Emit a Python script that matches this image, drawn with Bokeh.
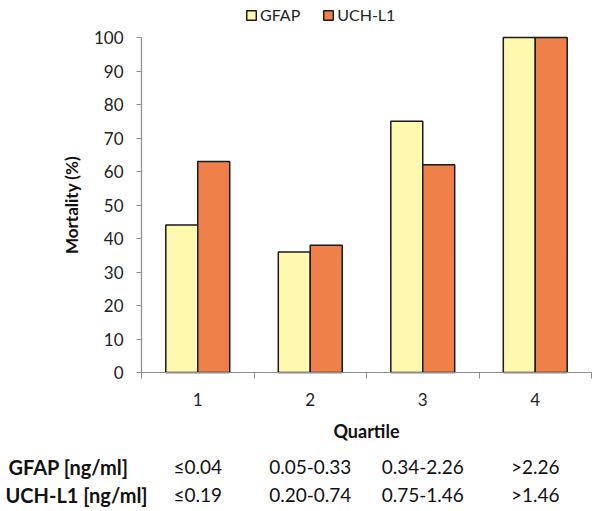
from bokeh.plotting import figure
from bokeh.models import (ColumnDataSource, FixedTicker, Legend, LegendItem, Range1d)
from bokeh.core.properties import value
from bokeh.transform import dodge
from bokeh.embed import file_html
from bokeh.resources import INLINE

quartiles = ["1", "2", "3", "4"]
gfap = [44, 36, 75, 100]
uchl1 = [63, 38, 62, 100]
gfap_ranges = ["≤0.04", "0.05-0.33", "0.34-2.26", ">2.26"]
uchl1_ranges = ["≤0.19", "0.20-0.74", "0.75-1.46", ">1.46"]
series_names = ["GFAP", "UCH-L1"]
row_headers = ["GFAP [ng/ml]", "UCH-L1 [ng/ml]"]

FONT = "Lato"
AX = "#8c8c8c"

# layout constants (pixels on the canvas)
W, H = 600, 511
AX_LEFT, AX_RIGHT = 141, 591        # x extent of the plotting area
AX_TOP, AX_BOTTOM = 37, 372         # y of 100 and of 0
ROW_Y = [466, 494]                  # table rows
HEAD_X = [8, 5]                     # table row headers (left edge)

xs = list(range(1, len(quartiles) + 1))
x0, x1 = 0.5, len(quartiles) + 0.5
ymax = 100
xppu = (AX_RIGHT - AX_LEFT) / (x1 - x0)
yppu = (AX_BOTTOM - AX_TOP) / ymax


def px_x(px):
    return x0 + (px - AX_LEFT) / xppu


def px_y(py):
    return (AX_BOTTOM - py) / yppu


src = ColumnDataSource(dict(x=xs, q=quartiles, gfap=gfap, uchl1=uchl1,
                            gr=gfap_ranges, ur=uchl1_ranges))

p = figure(frame_width=W, frame_height=H, output_backend="svg",
           toolbar_location=None,
           x_range=Range1d(px_x(0), px_x(W)), y_range=Range1d(px_y(H), px_y(0)),
           min_border_left=0, min_border_right=0, min_border_top=0,
           min_border_bottom=0)
p.outline_line_color = None
p.grid.visible = False

bw = 0.284
r1 = p.vbar(x=dodge("x", -bw / 2), top="gfap", width=bw, source=src,
            fill_color="#FFF9B0", line_color="#1a1a1a", line_width=1.5)
r2 = p.vbar(x=dodge("x", bw / 2), top="uchl1", width=bw, source=src,
            fill_color="#F0804A", line_color="#1a1a1a", line_width=1.5)

# x axis
xa = p.xaxis[0]
xa.fixed_location = 0
xa.bounds = (x0, x1)
xa.ticker = FixedTicker(ticks=xs, minor_ticks=[x - 0.5 for x in xs] + [xs[-1] + 0.5])
xa.major_label_overrides = {x: q for x, q in zip(xs, quartiles)}
xa.major_tick_out = 0
xa.major_tick_in = 0
xa.minor_tick_out = 6
xa.minor_tick_in = 0
xa.minor_tick_line_color = AX
xa.axis_line_color = AX
xa.axis_line_width = 1.2
xa.major_label_standoff = 14
xa.major_label_text_font = FONT
xa.major_label_text_font_size = "17px"
xa.major_label_text_color = "#222222"
xa.axis_label = "Quartile"
xa.axis_label_text_font = FONT
xa.axis_label_text_font_size = "18px"
xa.axis_label_text_font_style = "bold"
xa.axis_label_text_color = "#111111"
xa.axis_label_standoff = 11

# y axis
ya = p.yaxis[0]
ya.fixed_location = x0
ya.bounds = (0, ymax)
ya.ticker = FixedTicker(ticks=list(range(0, ymax + 1, 10)))
ya.minor_tick_line_color = None
ya.major_tick_out = 5
ya.major_tick_in = 0
ya.major_tick_line_color = AX
ya.axis_line_color = AX
ya.axis_line_width = 1.2
ya.major_label_standoff = 13
ya.major_label_text_font = FONT
ya.major_label_text_font_size = "17px"
ya.major_label_text_color = "#222222"
ya.axis_label = "Mortality (%)"
ya.axis_label_text_font = FONT
ya.axis_label_text_font_size = "17px"
ya.axis_label_text_font_style = "bold"
ya.axis_label_text_color = "#111111"
ya.axis_label_standoff = 9

# legend
legend = Legend(items=[LegendItem(label=series_names[0], renderers=[r1]),
                       LegendItem(label=series_names[1], renderers=[r2])],
                location=(245, H - 24), orientation="horizontal",
                padding=0, margin=0, spacing=22, label_standoff=3,
                glyph_width=12, glyph_height=12, label_height=12,
                border_line_color=None, background_fill_alpha=0,
                label_text_font=FONT, label_text_font_size="16px",
                label_text_color="#222222")
p.add_layout(legend, "center")

# table under the chart
for col, py in zip(("gr", "ur"), ROW_Y):
    p.text(x="x", y=px_y(py), text=col, source=src, text_align="center",
           text_baseline="middle", text_font=value(FONT),
           text_font_size="19px", text_color="#111111")
p.text(x=[px_x(h) for h in HEAD_X], y=[px_y(r) for r in ROW_Y], text=row_headers,
       text_align="left", text_baseline="middle", text_font=value(FONT),
       text_font_size="20px", text_font_style="bold", text_color="#111111")

open("out.html", "w").write(file_html(p, INLINE))
